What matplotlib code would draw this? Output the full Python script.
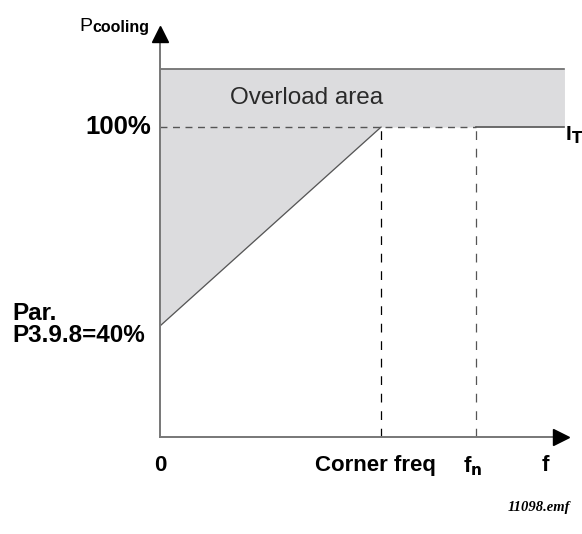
import numpy as np
import matplotlib.pyplot as plt

# cooling power curve (frequency relative to corner freq, percent of nominal)
freq = [0.0, 1.0, 1.83]
p_cooling = [40, 100, 100]
overload_top = 117.5
f_corner = 1.0
f_nom = 1.43
x_labels = ["0", "Corner freq", "f$_{\\mathbf{n}}$", "f"]
x_label_pos = [0.0, 0.975, f_nom - 0.015, 1.745]

W, H = 582, 534
fig = plt.figure(figsize=(W / 100, H / 100), dpi=100)
# origin of the diagram at pixel (160, 437), arrow tips at x=568 and y=20
ax = fig.add_axes([160 / W, (H - 437) / H, (568 - 160) / W, (437 - 20) / H])
ax.set_xlim(0, 1.846)
ax.set_ylim(6.5, 132.3)
ax.set_axis_off()


def px(x, y):
    return x / W, 1 - y / H


fill_c = "#dcdcde"
ax.fill_between(freq, p_cooling, overload_top, color=fill_c, lw=0)
ax.plot([0, freq[-1]], [overload_top, overload_top], color="#666666", lw=1.2)

# curve
ax.plot(freq[:2], p_cooling[:2], color="#555555", lw=0.9)
ax.plot([f_nom, freq[-1]], [100, 100], color="#555555", lw=1.2)
ax.plot([0, f_nom], [100, 100], color="#555555", lw=1.0, ls=(0, (5, 4)))

# vertical guides
ax.plot([f_corner, f_corner], [6.5, 100], color="black", lw=0.9, ls=(0, (7, 7)))
ax.plot([f_nom, f_nom], [6.5, 100], color="#555555", lw=0.9, ls=(0, (7, 7)))

# axes with arrows
ax.plot([0, 0], [6.5, 128], color="#777777", lw=1.4, clip_on=False)
ax.plot([0, 1.80], [6.5, 6.5], color="#777777", lw=1.4, clip_on=False)
ax.plot([0], [128.2], marker="^", ms=11, color="black", clip_on=False)
ax.plot([1.815], [6.5], marker=">", ms=11, color="black", clip_on=False)

font = "Liberation Sans"
ax.text(0.665, 108.8, "Overload area", fontsize=17.5, family=font, color="#2a2a2a",
        ha="center", va="center")
ax.text(-0.04, 100, "100%", fontsize=18.5, family=font, weight="bold",
        ha="right", va="center")
fig.text(*px(79, 31), "P", fontsize=14, family=font, ha="left", va="baseline")
fig.text(*px(92, 32), "cooling", fontsize=11.5, family=font, weight="bold",
         ha="left", va="baseline")
fig.text(*px(12, 302), "Par.\nP3.9.8=40%", fontsize=17.5, family=font, weight="bold",
         ha="left", va="top", linespacing=0.95)
fig.text(*px(565, 135), "I$_{\\mathbf{T}}$", fontsize=15, family=font, weight="bold",
         ha="left", va="center")

for xp, lab in zip(x_label_pos, x_labels):
    ax.text(xp, -2.2, lab, fontsize=16, family=font, weight="bold",
            ha="center", va="center")

fig.text(*px(570, 507), "11098.emf", fontsize=10.5, family="Liberation Serif",
         style="italic", weight="bold", ha="right", va="center")

fig.savefig("out.png", dpi=100)
